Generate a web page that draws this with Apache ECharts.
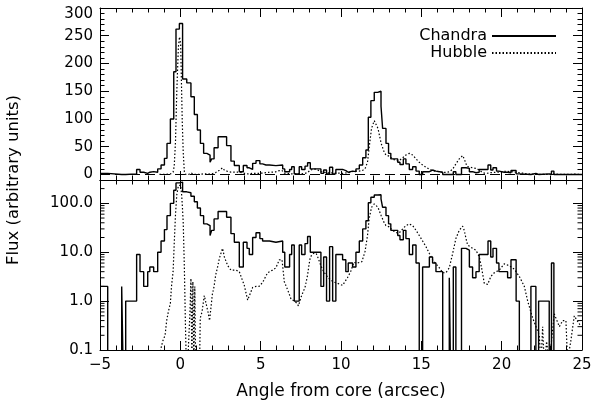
<!DOCTYPE html>
<html>
<head>
<meta charset="utf-8">
<script src="https://cdn.jsdelivr.net/npm/echarts@6/dist/echarts.min.js"></script>
<style>
  html, body { margin: 0; padding: 0; background: #fff; }
  #chart { width: 598px; height: 401px; }
</style>
</head>
<body>
<div id="chart"></div>
<script>
// Chandra X-ray profile: histogram bin edges (arcsec) and counts per bin
const chandraEdges = [
  -5.00, -4.52, -3.65, -3.53, -3.40, -2.72, -2.51, -2.28, -2.03, -1.90,
  -1.66, -1.41, -1.20, -0.99, -0.83, -0.62, -0.41, -0.27, -0.06, 0.14,
  0.40, 0.66, 0.87, 1.06, 1.25, 1.45, 1.65, 1.85, 1.95, 2.10,
  2.35, 2.60, 2.88, 3.15, 3.36, 3.67, 3.92, 4.15, 4.29, 4.50,
  4.71, 4.95, 5.12, 5.33, 5.55, 5.95, 6.37, 6.50, 6.80, 6.93,
  7.09, 7.40, 7.55, 7.76, 7.92, 8.09, 8.75, 8.92, 9.10, 9.29,
  9.48, 9.68, 10.10, 10.30, 10.45, 10.72, 10.93, 11.14, 11.35, 11.55,
  11.70, 11.86, 12.07, 12.28, 12.49, 12.59, 12.80, 12.96, 13.10, 13.53,
  13.67, 13.88, 14.04, 14.25, 14.46, 14.67, 14.87, 15.08, 15.50, 15.70,
  15.91, 16.33, 16.74, 16.84, 16.99, 17.15, 17.50, 17.78, 17.99, 18.19,
  18.40, 18.60, 18.98, 19.15, 19.32, 19.46, 19.68, 19.83, 20.16, 20.37,
  20.58, 20.90, 21.10, 21.82, 22.13, 22.30, 22.96, 23.10, 23.25, 25.00
];
const chandraCounts = [
  2, 0, 2, 0, 1, 9, 4, 2, 4, 5,
  4, 10, 17, 29, 56, 100, 185, 262, 272, 172,
  165, 140, 108, 80, 56, 38, 35, 22, 28, 48,
  68, 68, 52, 24, 16, 5, 16, 12, 9, 20,
  25, 19, 17, 17, 16, 17, 10, 5, 9, 14,
  1, 14, 9, 15, 21, 10, 2, 8, 1, 13,
  1, 9, 7, 4, 6, 5, 10, 17, 30, 44,
  103, 133, 148, 150, 123, 83, 56, 38, 28, 22,
  18, 28, 19, 9, 14, 6, 0, 5, 8, 6,
  4, 0, 3, 0, 5, 0, 12, 11, 5, 3,
  4, 9, 9, 17, 8, 12, 6, 4, 4, 3,
  7, 1, 0, 2, 0, 1, 0, 6, 0
];

// Hubble optical profile: positions (arcsec) and flux
const hubbleX = [
  -1.30, -1.10, -0.95, -0.85, -0.75, -0.62, -0.55, -0.45, -0.38, -0.30,
  -0.22, -0.12, -0.05, 0.02, 0.08, 0.12, 0.18, 0.25, 0.32, 0.40,
  0.52, 0.60, 0.66, 0.72, 0.78, 0.84, 0.90, 0.97, 1.05, 1.18,
  1.24, 1.35, 1.49, 1.60, 1.72, 1.82, 1.99, 2.10, 2.20, 2.32,
  2.43, 2.55, 2.63, 2.74, 2.95, 3.15, 3.46, 3.67, 3.98, 4.19,
  4.29, 4.50, 4.71, 4.90, 5.12, 5.43, 5.74, 5.95, 6.16, 6.33,
  6.47, 6.68, 6.89, 7.09, 7.26, 7.35, 7.55, 7.76, 7.92, 8.00,
  8.09, 8.30, 8.45, 8.55, 8.75, 8.92, 9.20, 9.50, 9.80, 10.10,
  10.40, 10.60, 10.80, 11.00, 11.30, 11.50, 11.65, 11.75, 11.90, 12.07,
  12.30, 12.50, 12.69, 12.80, 13.00, 13.21, 13.42, 13.63, 13.84, 14.04,
  14.25, 14.46, 14.67, 14.87, 15.08, 15.29, 15.50, 15.70, 15.91, 16.12,
  16.33, 16.53, 16.74, 16.95, 17.15, 17.36, 17.57, 17.67, 17.78, 17.88,
  17.99, 18.19, 18.40, 18.61, 18.75, 18.92, 19.13, 19.33, 19.54, 19.85,
  20.16, 20.47, 20.78, 21.10, 21.41, 21.62, 21.93, 22.14, 22.34, 22.45,
  22.55, 22.65, 22.80, 22.96, 23.27, 23.59, 23.80, 24.00, 24.10, 24.30,
  24.52, 24.70, 24.95
];
const hubbleFlux = [
  0.08, 0.15, 0.2, 0.4, 0.6, 0.9, 2.0, 4, 15, 60,
  150, 230, 248, 235, 150, 95, 40, 5, 0.3, 0.02,
  0.02, 0.6, 2.9, 0.05, 2.5, 0.05, 2.0, 0.02, 0.02, 0.02,
  0.45, 0.6, 1.3, 1.2, 0.6, 0.4, 1.35, 2.0, 3.4, 5,
  7.5, 10, 12, 8, 5.3, 4.3, 4.3, 4, 2.1, 1.05,
  1.0, 1.9, 2.0, 2.0, 2.4, 3.8, 4.3, 4.8, 7, 7,
  2.5, 1.7, 1.1, 1.0, 0.9, 0.8, 1.3, 1.9, 3.4, 5.3,
  8, 9.5, 9.5, 8, 5.3, 4, 3, 2.5, 2.3, 2.1,
  3, 4, 6.2, 6, 6.4, 10.5, 22, 48, 83, 97,
  83, 56, 40, 35, 33, 28, 25, 25, 30, 35,
  38, 35, 28, 22, 17, 13, 9.4, 7, 5.8, 4.8,
  3.8, 3.8, 4.8, 9.4, 19, 28, 34, 28, 19, 14,
  13, 12, 11, 8, 4.8, 2.3, 2.2, 3.2, 3.8, 4.3,
  5.8, 5.3, 4.5, 3.2, 2, 1, 0.45, 0.3, 0.2, 0.05,
  0.3, 0.05, 0.15, 0.05, 0.55, 0.3, 0.4, 0.4, 0.06, 0.15,
  0.5, 0.4, 0.3
];

// Axis tick values
const xTicks = [-5, 0, 5, 10, 15, 20, 25];
const linearTicks = [0, 50, 100, 150, 200, 250, 300];
const logTicks = [0.1, 1, 10, 100];

const xMin = -5, xMax = 25;
const linMin = -10, linMax = 300;
const logMin = 0.1, logMax = 300;
const logFloor = 0.01; // empty bins fall below the log axis and are clipped

const FONT = '"DejaVu Sans", sans-serif';
const INK = '#000';
const MAJOR = 9, MINOR = 4.5;

const chandraSteps = chandraCounts.map((c, i) => [chandraEdges[i], c]);
chandraSteps.push([chandraEdges[chandraEdges.length - 1], chandraCounts[chandraCounts.length - 1]]);
const hubblePts = hubbleX.map((x, i) => [x, hubbleFlux[i]]);
const toLog = pts => pts.map(([x, y]) => [x, y > 0 ? y : logFloor]);

// Minor ticks of the log axis (2..9 in every decade)
const logMinor = [];
for (let d = 0.1; d < logMax; d *= 10) {
  for (let k = 2; k <= 9; k++) {
    const v = +(d * k).toPrecision(3);
    if (v < logMax) logMinor.push(v);
  }
}

const grids = [
  { left: 100, right: 16, top: 8, height: 172 },
  { left: 100, right: 16, top: 180, height: 170 }
];

function xAxisFor(gridIndex, position, showLabels) {
  return {
    type: 'value', gridIndex, position, min: xMin, max: xMax, interval: 5,
    axisLine: { onZero: false, lineStyle: { color: INK, width: 1 } },
    axisTick: { inside: true, length: MAJOR, lineStyle: { color: INK } },
    minorTick: { show: true, splitNumber: 5, length: MINOR, lineStyle: { color: INK } },
    splitLine: { show: false },
    axisLabel: {
      show: showLabels, color: INK, fontFamily: FONT, fontSize: 15, margin: 8,
      formatter: v => xTicks.includes(v) ? String(v).replace('-', '\u2212') : ''
    },
    name: showLabels ? 'Angle from core (arcsec)' : '',
    nameLocation: 'middle', nameGap: 33,
    nameTextStyle: { color: INK, fontFamily: FONT, fontSize: 17 }
  };
}

function linAxis(position, showLabels) {
  return {
    type: 'value', gridIndex: 0, position, min: linMin, max: linMax, splitNumber: 6,
    axisLine: { onZero: false, lineStyle: { color: INK, width: 1 } },
    axisTick: { inside: true, length: MAJOR, lineStyle: { color: INK } },
    minorTick: { show: true, splitNumber: 5, length: MINOR, lineStyle: { color: INK } },
    splitLine: { show: false },
    axisLabel: {
      show: showLabels, color: INK, fontFamily: FONT, fontSize: 15, margin: 7,
      formatter: v => {
        if (!linearTicks.includes(v)) return '';
        return v === linMax ? '{top|' + v + '}' : String(v);
      },
      rich: { top: { color: INK, fontFamily: FONT, fontSize: 15, padding: [12, 0, 0, 0] } }
    }
  };
}

function logAxis(position, showLabels) {
  return {
    type: 'log', logBase: 10, gridIndex: 1, position, min: logMin, max: logMax,
    axisLine: { onZero: false, lineStyle: { color: INK, width: 1 } },
    axisTick: { inside: true, length: MAJOR, lineStyle: { color: INK } },
    splitLine: { show: false },
    axisLabel: {
      show: showLabels, color: INK, fontFamily: FONT, fontSize: 15, margin: 7,
      formatter: v => logTicks.some(t => Math.abs(t - v) < 1e-9) ? v.toFixed(1) : ''
    }
  };
}

const chandraLine = { color: INK, width: 1.4, type: 'solid' };
const hubbleLine = { color: INK, width: 1.2, type: [1.5, 2] };

function legendFor(name, top) {
  return {
    data: [name], right: 41, top, align: 'right', selectedMode: false,
    itemWidth: 64, itemHeight: 12, padding: 0,
    itemStyle: { opacity: 0 },
    textStyle: { color: INK, fontFamily: FONT, fontSize: 16 }
  };
}

const option = {
  animation: false,
  backgroundColor: '#fff',
  grid: grids,
  xAxis: [
    xAxisFor(0, 'bottom', false),
    xAxisFor(0, 'top', false),
    xAxisFor(1, 'bottom', true),
    xAxisFor(1, 'top', false)
  ],
  yAxis: [
    linAxis('left', true),
    linAxis('right', false),
    logAxis('left', true),
    logAxis('right', false)
  ],
  legend: [legendFor('Chandra', 28), legendFor('Hubble', 45)],
  graphic: [
    {
      type: 'text', x: 14, y: 180, rotation: Math.PI / 2, silent: true,
      style: {
        text: 'Flux (arbitrary units)', fill: INK, font: '16.5px ' + FONT,
        align: 'center', verticalAlign: 'middle'
      }
    }
  ],
  series: [
    {
      name: 'Chandra', type: 'line', xAxisIndex: 0, yAxisIndex: 0,
      step: 'end', showSymbol: false, symbol: 'none', data: chandraSteps,
      lineStyle: chandraLine, itemStyle: { color: INK },
      markLine: {
        silent: true, symbol: 'none', label: { show: false },
        lineStyle: { color: INK, width: 1, type: [10, 5] },
        data: [{ yAxis: 0 }]
      }
    },
    {
      name: 'Hubble', type: 'line', xAxisIndex: 0, yAxisIndex: 0,
      showSymbol: false, symbol: 'none', data: hubblePts,
      lineStyle: hubbleLine, itemStyle: { color: INK }
    },
    {
      name: 'Chandra', type: 'line', xAxisIndex: 2, yAxisIndex: 2,
      step: 'end', showSymbol: false, symbol: 'none', data: toLog(chandraSteps),
      lineStyle: chandraLine, itemStyle: { color: INK }
    },
    {
      name: 'Hubble', type: 'line', xAxisIndex: 2, yAxisIndex: 2,
      showSymbol: false, symbol: 'none', data: toLog(hubblePts),
      lineStyle: hubbleLine, itemStyle: { color: INK }
    },
    {
      // minor ticks on both sides of the log panel
      type: 'custom', xAxisIndex: 2, yAxisIndex: 2, silent: true,
      data: logMinor.map(v => [xMin, v]),
      encode: { x: 0, y: 1 },
      renderItem: (params, api) => {
        const v = api.value(1);
        const l = api.coord([xMin, v]);
        const r = api.coord([xMax, v]);
        const st = { stroke: INK, lineWidth: 1 };
        return {
          type: 'group',
          children: [
            { type: 'line', shape: { x1: l[0], y1: l[1], x2: l[0] + MINOR, y2: l[1] }, style: st },
            { type: 'line', shape: { x1: r[0] - MINOR, y1: r[1], x2: r[0], y2: r[1] }, style: st }
          ]
        };
      }
    }
  ]
};

const chart = echarts.init(document.getElementById('chart'));
chart.setOption(option);
</script>
</body>
</html>
